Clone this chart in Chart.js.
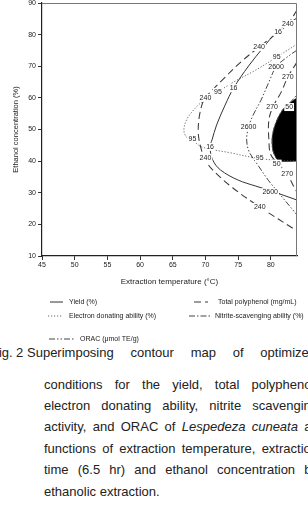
<!DOCTYPE html>
<html><head><meta charset="utf-8">
<script src="https://cdn.jsdelivr.net/npm/chart.js@4.4.1/dist/chart.umd.min.js"></script>
<style>
html,body{margin:0;padding:0;background:#fff;}
body{width:308px;height:520px;overflow:hidden;position:relative;}
#wrap{position:absolute;left:0;top:0;width:308px;height:345px;}
.cap{position:absolute;font-family:"Liberation Sans",Arial,sans-serif;font-size:13px;line-height:16px;color:#222;white-space:nowrap;}
.j{text-align:justify;text-align-last:justify;white-space:normal;}
</style></head><body>
<div id="wrap"><canvas id="c" width="308" height="345"></canvas></div>
<div class="cap" style="left:-9px;top:345px">Fig.</div>
<div class="cap" style="left:16px;top:345px">2</div>
<div class="cap j" style="left:27px;top:345px;width:289px">Superimposing contour map of optimized</div>
<div class="cap j" style="left:44px;top:377px;width:274px">conditions for the yield, total polyphenol,</div>
<div class="cap j" style="left:44px;top:398px;width:274px">electron donating ability, nitrite scavenging</div>
<div class="cap j" style="left:44px;top:419px;width:274px">activity, and ORAC of <i>Lespedeza cuneata</i> as</div>
<div class="cap j" style="left:44px;top:441px;width:274px">functions of extraction temperature, extraction</div>
<div class="cap j" style="left:44px;top:462px;width:274px">time (6.5 hr) and ethanol concentration by</div>
<div class="cap" style="left:44px;top:484px">ethanolic extraction.</div>
<script>
const xTicks=[45,50,55,60,65,70,75,80];
const yTicks=[10,20,30,40,50,60,70,80,90];
const seriesNames=['Yield (%)','Total polyphenol (mg/mL)','Electron donating ability (%)','Nitrite-scavenging ability (%)','ORAC (\u03bcmol TE/g)'];

// contour lines [temperature, ethanol %]
const yield16=[[84.0,85.3],[80.9,80.8],[78.8,75.8],[76.6,70.1],[74.3,63.1],[73.0,57.7],[71.7,51.4],[71.0,46.7],[70.7,44.5],[71.1,40.4],[72.3,37.2],[75.0,34.0],[77.7,32.1],[80.0,30.6],[84.0,27.7]];
const poly240=[[84.0,87.8],[82.6,83.4],[80.0,78.9],[78.2,76.1],[75.4,71.3],[72.6,65.7],[70.8,61.9],[69.8,59.6],[69.1,54.6],[68.9,48.9],[69.3,44.2],[70.0,40.4],[71.1,37.2],[74.2,31.5],[78.3,25.5],[84.0,17.9]];
const poly270=[[84.0,71.3],[82.6,66.6],[81.6,61.9],[80.3,57.1],[79.7,53.0],[79.7,46.7],[80.0,42.0],[81.3,38.8],[82.5,35.9],[83.4,32.4],[84.0,30.2]];
const eda95=[[84.0,77.0],[80.9,72.9],[77.7,68.8],[74.3,65.0],[71.9,61.9],[69.8,59.3],[68.2,56.2],[67.1,53.0],[66.7,49.8],[67.1,47.6],[68.0,46.7],[69.4,44.5],[73.9,42.6],[77.7,41.0],[81.3,40.2],[84.2,40.0]];
const nitrite50=[[84.6,62.5],[82.9,58.4],[81.8,56.2],[81.1,53.7],[80.5,50.5],[80.2,47.3],[80.3,43.5],[80.8,41.0],[81.3,40.0],[81.6,38.5]];
const orac2600=[[84.0,75.1],[82.3,72.6],[80.8,69.8],[79.7,65.0],[78.5,59.3],[77.3,54.6],[76.6,50.8],[76.3,46.7],[76.7,42.9],[78.0,38.8],[79.6,34.0],[81.1,30.2],[84.0,23.0]];
const optimum=[[84.2,60.3],[82.9,58.4],[81.8,56.2],[81.1,53.7],[80.5,50.5],[80.2,47.3],[80.3,43.5],[80.8,41.0],[81.3,40.0],[84.2,40.0]];
const contourLabels=[[82.6,83.4,'240'],[81.1,80.8,'16'],[78.2,76.1,'240'],[80.9,72.9,'95'],[80.8,69.8,'2600'],[82.6,66.6,'270'],
[70.0,60.0,'240'],[71.9,61.9,'95'],[74.3,63.1,'16'],[80.2,57.1,'270'],[82.8,57.1,'50'],[76.6,50.8,'2600'],
[68.0,47.0,'95'],[70.7,44.5,'16'],[70.0,41.0,'240'],[78.3,41.0,'95'],[80.9,39.2,'50'],[82.5,35.9,'270'],[79.9,30.2,'2600'],[78.3,25.5,'240']];

const styles=[
 {dash:[],w:1,c:'#333'},
 {dash:[7,4],w:1.05,c:'#3a3a3a'},
 {dash:[1.2,1.8],w:0.9,c:'#555'},
 {dash:[6,2,1.5,2],w:1,c:'#444'},
 {dash:[6,2,1.5,2,1.5,2],w:1,c:'#444'}
];
const pts=a=>a.map(p=>({x:p[0],y:p[1]}));
const line=(label,data,si)=>({label,data:pts(data),borderColor:styles[si].c,borderWidth:styles[si].w,borderDash:styles[si].dash,pointRadius:0,tension:0.35,fill:false,order:1});
const FONT='"Liberation Sans", Arial, sans-serif';

const datasets=[
 {label:'optimum',data:pts(optimum),borderColor:'#000',backgroundColor:'#000',borderWidth:0.5,pointRadius:0,tension:0.25,fill:'shape',order:5},
 line(seriesNames[0]+' 16',yield16,0),
 line(seriesNames[1]+' 240',poly240,1),
 line(seriesNames[1]+' 270',poly270,1),
 line(seriesNames[2]+' 95',eda95,2),
 line(seriesNames[3]+' 50',nitrite50,3),
 line(seriesNames[4]+' 2600',orac2600,4)
];

const framePlugin={id:'frame',afterDraw(ch){const a=ch.chartArea,ctx=ch.ctx;ctx.save();ctx.strokeStyle='#777';ctx.lineWidth=1;ctx.beginPath();ctx.moveTo(a.left,a.top+0.5);ctx.lineTo(a.right-0.5,a.top+0.5);ctx.lineTo(a.right-0.5,a.bottom);ctx.stroke();ctx.restore();}};
const labelPlugin={id:'clabels',afterDatasetsDraw(ch){const ctx=ch.ctx,xs=ch.scales.x,ys=ch.scales.y;ctx.save();ctx.font='7px '+FONT;ctx.textAlign='center';ctx.textBaseline='middle';
 contourLabels.forEach(l=>{const px=xs.getPixelForValue(l[0]),py=ys.getPixelForValue(l[1]);const w=ctx.measureText(l[2]).width;ctx.fillStyle='#fff';ctx.fillRect(px-w/2-1,py-4,w+2,8);ctx.fillStyle='#222';ctx.fillText(l[2],px,py);});ctx.restore();}};
const legendPos=[[50,63,302,69],[194,208,302,218],[48,63,316,69],[189,210,316,215],[49,75,339,80]];
const legendPlugin={id:'leg',afterDraw(ch){const ctx=ch.ctx;ctx.save();ctx.font='7px '+FONT;ctx.textBaseline='middle';ctx.textAlign='left';
 seriesNames.forEach((n,i)=>{const p=legendPos[i],s=styles[i];ctx.strokeStyle=s.c;ctx.lineWidth=s.w;ctx.setLineDash(s.dash);ctx.beginPath();ctx.moveTo(p[0],p[2]);ctx.lineTo(p[1],p[2]);ctx.stroke();ctx.setLineDash([]);ctx.fillStyle='#222';ctx.fillText(n,p[3],p[2]);});ctx.restore();}};

new Chart(document.getElementById('c'),{
 type:'line',
 data:{datasets},
 options:{responsive:false,animation:false,events:[],
  layout:{padding:{top:3,right:11,bottom:53,left:0}},
  plugins:{legend:{display:false},tooltip:{enabled:false}},
  scales:{
   x:{type:'linear',min:45,max:84,
    afterBuildTicks:s=>{s.ticks=xTicks.map(v=>({value:v}));},
    afterFit:s=>{s.height=36;s.paddingLeft=0;s.paddingRight=0;},
    ticks:{font:{size:7,family:FONT},color:'#222',padding:1,maxRotation:0,autoSkip:false},
    grid:{display:true,drawOnChartArea:false,drawTicks:true,tickLength:4,color:'#333'},
    border:{display:true,color:'#222',width:1.2},
    title:{display:true,text:'Extraction temperature (\u00b0C)',font:{size:8,family:FONT},color:'#222',padding:{top:0,bottom:5}}},
   y:{type:'linear',min:10,max:90,
    afterBuildTicks:s=>{s.ticks=yTicks.map(v=>({value:v}));},
    afterFit:s=>{s.width=42;s.paddingTop=0;s.paddingBottom=0;},
    ticks:{font:{size:7,family:FONT},color:'#222',padding:2,autoSkip:false},
    grid:{display:true,drawOnChartArea:false,drawTicks:true,tickLength:4,color:'#333'},
    border:{display:true,color:'#222',width:1.2},
    title:{display:true,text:'Ethanol concentration (%)',font:{size:7.5,family:FONT},color:'#222',padding:{top:11,bottom:0}}}
  }
 },
 plugins:[framePlugin,labelPlugin,legendPlugin]
});
</script>
</body></html>
